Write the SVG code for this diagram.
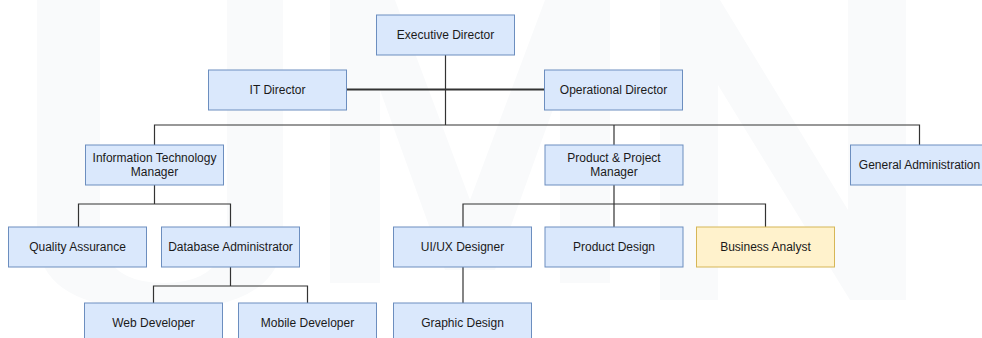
<svg xmlns="http://www.w3.org/2000/svg" width="982" height="338" viewBox="0 0 982 338">
<style>
.box rect{fill:#dae8fc;stroke:#6c8ebf;stroke-width:1}
.box.ba rect{fill:#fff2cc;stroke:#d6b656}
.box text{font-family:"Liberation Sans",Arial,sans-serif;font-size:12px;fill:#1a1a1a;text-anchor:middle}
#connectors path{fill:none;stroke:#333;stroke-width:1.2}
#connectors path.thick{stroke-width:2}
.wm{fill:#f9fafb}
</style>
<rect width="982" height="338" fill="#ffffff"/>
<g id="watermark">
<path class="wm" d="M37,0 H100 V225 Q100,283 164,283 Q227,283 227,225 V0 H283 V235 Q283,310 160,310 Q37,310 37,235 Z"/>
<path class="wm" d="M330,0 H395 L470,200 L545,0 H610 V283 H560 V90 L495,270 H445 L380,90 V283 H330 Z"/>
<path class="wm" d="M660,0 H720 L848,210 V0 H906 V300 H850 L718,85 V300 H660 Z"/>
</g>
<g id="connectors">
<path d="M445.5,55 V125"/>
<path class="thick" d="M346.5,89.5 H544.5"/>
<path d="M154.5,145 V125 H919.5 V145"/>
<path d="M614,125 V145"/>
<path d="M154.5,185 V204 M78.5,227 V204 H230.5 V227"/>
<path d="M614,185 V227 M463,227 V204 H765.5 V227"/>
<path d="M230.5,267 V286 M153.5,303 V286 H307.5 V303"/>
<path d="M463,267 V303"/>
</g>
<g id="executive-director" class="box"><rect x="376.5" y="15" width="138" height="40"/><text x="445.5" y="39">Executive Director</text></g>
<g id="it-director" class="box"><rect x="208.5" y="70" width="138" height="40"/><text x="277.5" y="94">IT Director</text></g>
<g id="operational-director" class="box"><rect x="544.5" y="70" width="138" height="40"/><text x="613.5" y="94">Operational Director</text></g>
<g id="it-manager" class="box"><rect x="85.5" y="145" width="138" height="40"/><text x="154.5" y="161.5">Information Technology</text><text x="154.5" y="176">Manager</text></g>
<g id="pp-manager" class="box"><rect x="545" y="145" width="138" height="40"/><text x="614" y="161.5">Product &amp; Project</text><text x="614" y="176">Manager</text></g>
<g id="general-administration" class="box"><rect x="850.5" y="145" width="138" height="40"/><text x="919.5" y="169">General Administration</text></g>
<g id="quality-assurance" class="box"><rect x="8.5" y="227" width="138" height="40"/><text x="77.5" y="251">Quality Assurance</text></g>
<g id="database-administrator" class="box"><rect x="161.5" y="227" width="138" height="40"/><text x="230.5" y="251">Database Administrator</text></g>
<g id="uiux-designer" class="box"><rect x="393.5" y="227" width="138" height="40"/><text x="462.5" y="251">UI/UX Designer</text></g>
<g id="product-design" class="box"><rect x="545" y="227" width="138" height="40"/><text x="614" y="251">Product Design</text></g>
<g id="business-analyst" class="box ba"><rect x="696.5" y="227" width="138" height="40"/><text x="765.5" y="251">Business Analyst</text></g>
<g id="web-developer" class="box"><rect x="84.5" y="303" width="138" height="40"/><text x="153.5" y="327">Web Developer</text></g>
<g id="mobile-developer" class="box"><rect x="238.5" y="303" width="138" height="40"/><text x="307.5" y="327">Mobile Developer</text></g>
<g id="graphic-design" class="box"><rect x="393.5" y="303" width="138" height="40"/><text x="462.5" y="327">Graphic Design</text></g>
</svg>
